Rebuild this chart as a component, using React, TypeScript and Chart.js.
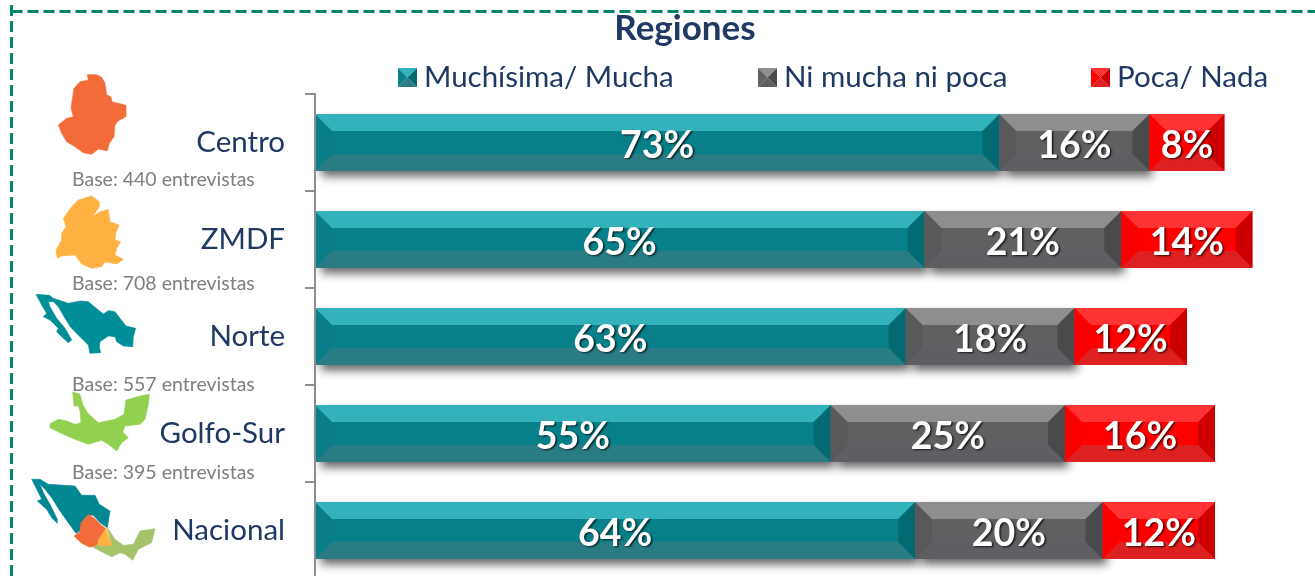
import React, { useEffect, useRef } from "react";
import { Chart, registerables } from "chart.js";

Chart.register(...registerables);

const categories = ["Centro", "ZMDF", "Norte", "Golfo-Sur", "Nacional"];
const muchaValues = [73, 65, 63, 55, 64];
const niValues = [16, 21, 18, 25, 20];
const pocaValues = [8, 14, 12, 16, 12];
const seriesNames = ["Muchísima/ Mucha", "Ni mucha ni poca", "Poca/ Nada"];
const baseLabels = ["Base: 440 entrevistas", "Base: 708 entrevistas", "Base: 557 entrevistas", "Base: 395 entrevistas"];
const chartTitle = "Regiones";

const FONT = "Lato, 'Open Sans', sans-serif";
const NAVY = "#1f3864";

const PALETTE = [
  { center: "#08808a", top: "#33b2bc", bottom: "#2a7c84", left: "#0a7e88", right: "#036a72" },
  { center: "#605f62", top: "#8e8e90", bottom: "#5f5f63", left: "#59595b", right: "#4a4a4c" },
  { center: "#ff0000", top: "#ff3333", bottom: "#dd2020", left: "#fa0000", right: "#cc0000" },
];

const BASE_Y = [180, 284, 385, 473];
const LEGEND_X = [398, 758, 1091];

type Pts = number[][];
const shape = (ctx: CanvasRenderingContext2D, pts: Pts, ox: number, oy: number, color: string) => {
  ctx.fillStyle = color;
  ctx.strokeStyle = color;
  ctx.lineWidth = 0.6;
  ctx.lineJoin = "round";
  ctx.beginPath();
  pts.forEach(([x, y], i) => (i ? ctx.lineTo(ox + x / 3, oy + y / 3) : ctx.moveTo(ox + x / 3, oy + y / 3)));
  ctx.closePath();
  ctx.fill();
  ctx.stroke();
};

const mapCentro: Pts = [[262,224],[290,224],[305,232],[315,250],[320,285],[333,290],[336,305],[355,310],[378,316],[378,350],[355,362],[345,375],[342,410],[328,430],[322,452],[295,447],[275,463],[250,458],[225,440],[200,425],[185,400],[175,375],[200,355],[220,350],[213,325],[218,290],[222,265],[240,245],[265,240]];
const mapZmdf: Pts = [[275,18],[298,35],[298,50],[278,80],[300,65],[325,58],[330,95],[357,105],[347,130],[345,150],[362,155],[350,175],[345,195],[370,208],[350,222],[315,215],[305,230],[275,235],[245,222],[225,195],[185,198],[172,205],[168,180],[185,150],[185,130],[198,110],[190,85],[215,50],[235,30]];
const mapNorte: Pts = [[108,313],[148,316],[160,325],[205,340],[240,333],[265,335],[285,352],[310,372],[325,362],[345,365],[360,385],[378,408],[407,415],[400,440],[398,470],[370,468],[350,455],[345,440],[325,438],[300,455],[298,470],[302,488],[270,490],[265,465],[240,440],[212,412],[195,385],[175,350],[160,335],[145,335],[150,350],[170,385],[195,415],[215,450],[205,458],[190,445],[170,425],[175,415],[150,390],[130,380],[140,370],[125,345]];
const mapGolfo: Pts = [[218,48],[240,55],[248,85],[262,110],[295,140],[345,130],[372,115],[378,72],[420,60],[448,55],[445,85],[435,130],[420,145],[375,150],[368,168],[385,185],[365,200],[350,225],[325,205],[305,193],[265,205],[225,190],[190,175],[150,155],[150,143],[175,130],[200,135],[225,145],[243,140],[240,105],[235,90],[222,90]];
const natNorth: Pts = [[95,310],[120,310],[145,325],[195,328],[225,330],[245,358],[285,358],[298,385],[330,405],[322,455],[300,440],[280,418],[262,418],[245,440],[240,465],[228,472],[205,440],[180,405],[155,365],[135,340],[120,325],[130,350],[150,385],[172,430],[172,442],[155,425],[140,400],[112,375],[125,370],[108,335]];
const natCentro: Pts = [[265,416],[285,428],[300,445],[318,458],[297,490],[293,505],[270,514],[245,502],[222,480],[240,468],[243,440]];
const natGolfo: Pts = [[322,455],[345,490],[370,508],[400,505],[420,465],[465,458],[455,500],[415,520],[398,553],[375,535],[360,530],[335,542],[300,525],[270,508],[295,505],[335,508]];
const natZmdf: Pts = [[318,457],[335,508],[300,510],[293,495]];

const poly = (ctx: CanvasRenderingContext2D, pts: Pts, color: string) => {
  ctx.fillStyle = color;
  ctx.beginPath();
  pts.forEach(([x, y], i) => (i ? ctx.lineTo(x, y) : ctx.moveTo(x, y)));
  ctx.closePath();
  ctx.fill();
};

const frameAndDecor = {
  id: "frameAndDecor",
  beforeDraw(chart: any) {
    const ctx: CanvasRenderingContext2D = chart.ctx;
    ctx.save();
    ctx.strokeStyle = "#00876b";
    ctx.lineWidth = 3;
    ctx.setLineDash([11, 5]);
    ctx.beginPath();
    ctx.moveTo(11.5, 11.5);
    ctx.lineTo(1315, 11.5);
    ctx.stroke();
    ctx.beginPath();
    ctx.moveTo(11.5, 576);
    ctx.lineTo(11.5, 0);
    ctx.stroke();
    ctx.setLineDash([]);

    shape(ctx, mapCentro, 0, 0, "#f26b38");
    shape(ctx, mapZmdf, 0, 190, "#ffb142");
    shape(ctx, mapNorte, 0, 190, "#008f98");
    shape(ctx, mapGolfo, 0, 376, "#92d050");
    shape(ctx, natNorth, 0, 376, "#008792");
    shape(ctx, natGolfo, 0, 376, "#a5c36a");
    shape(ctx, natCentro, 0, 376, "#f26b38");
    shape(ctx, natZmdf, 0, 376, "#ffb142");

    ctx.fillStyle = "#7f7f7f";
    ctx.font = `19.5px ${FONT}`;
    ctx.textAlign = "left";
    ctx.textBaseline = "middle";
    baseLabels.forEach((t, i) => ctx.fillText(t, 72, BASE_Y[i]));

    ctx.fillStyle = NAVY;
    ctx.font = `bold 35px ${FONT}`;
    ctx.textAlign = "center";
    ctx.fillText(chartTitle, 685, 29);

    ctx.font = `29.5px ${FONT}`;
    ctx.textAlign = "left";
    seriesNames.forEach((name, i) => {
      const p = PALETTE[i];
      const x = LEGEND_X[i], y = 68, s = 19;
      const c = [x + s / 2, y + s / 2];
      poly(ctx, [[x, y], [x + s, y], c], p.top);
      poly(ctx, [[x, y + s], [x + s, y + s], c], p.bottom);
      poly(ctx, [[x, y], [x, y + s], c], p.center);
      poly(ctx, [[x + s, y], [x + s, y + s], c], p.right);
      ctx.fillStyle = NAVY;
      ctx.fillText(name, x + 26, 77);
    });
    ctx.restore();
  },
};

const barShadow = {
  id: "barShadow",
  beforeDatasetsDraw(chart: any) {
    const ctx: CanvasRenderingContext2D = chart.ctx;
    ctx.save();
    ctx.shadowColor = "rgba(0,0,0,0.6)";
    ctx.shadowBlur = 9;
    ctx.shadowOffsetX = 4;
    ctx.shadowOffsetY = 6;
    ctx.fillStyle = "#555";
    [0, 1].forEach((d) => {
      chart.getDatasetMeta(d).data.forEach((b: any) => {
        ctx.fillRect(b.base + 2, b.y - b.height / 2, b.x - b.base - 2, b.height);
      });
    });
    ctx.restore();
  },
};

const bevelAndLabels = {
  id: "bevelAndLabels",
  afterDatasetsDraw(chart: any) {
    const ctx: CanvasRenderingContext2D = chart.ctx;
    ctx.save();
    chart.data.datasets.forEach((ds: any, d: number) => {
      const p = PALETTE[d];
      chart.getDatasetMeta(d).data.forEach((b: any, i: number) => {
        const x0 = b.base, x1 = b.x;
        const y0 = b.y - b.height / 2, y1 = b.y + b.height / 2;
        const t = 17;
        poly(ctx, [[x0, y0], [x0 + t, y0 + t], [x0 + t, y1 - t], [x0, y1]], p.left);
        poly(ctx, [[x1, y0], [x1 - t, y0 + t], [x1 - t, y1 - t], [x1, y1]], p.right);
        poly(ctx, [[x0, y0], [x1, y0], [x1 - t, y0 + t], [x0 + t, y0 + t]], p.top);
        poly(ctx, [[x0, y1], [x1, y1], [x1 - t, y1 - t], [x0 + t, y1 - t]], p.bottom);
        ctx.save();
        ctx.font = `bold 37.5px ${FONT}`;
        ctx.textAlign = "center";
        ctx.textBaseline = "middle";
        ctx.fillStyle = "#ffffff";
        ctx.shadowColor = "rgba(0,0,0,0.75)";
        ctx.shadowBlur = 2;
        ctx.shadowOffsetX = 1.5;
        ctx.shadowOffsetY = 1.5;
        ctx.fillText(`${ds.data[i]}%`, (x0 + x1) / 2, b.y + 3);
        ctx.restore();
      });
    });
    ctx.restore();
  },
};

export default function App() {
  const ref = useRef<HTMLCanvasElement>(null);
  useEffect(() => {
    document.body.style.margin = "0";
    const chart = new Chart(ref.current!, {
      type: "bar",
      data: {
        labels: categories,
        datasets: [muchaValues, niValues, pocaValues].map((data, i) => ({
          label: seriesNames[i],
          data,
          backgroundColor: PALETTE[i].center,
          barPercentage: 0.588,
          categoryPercentage: 1,
          borderWidth: 0,
        })),
      },
      options: {
        indexAxis: "y",
        responsive: false,
        animation: false,
        layout: { padding: { top: 94, right: 62.5, bottom: 1, left: 0 } },
        plugins: { legend: { display: false }, title: { display: false }, tooltip: { enabled: false } },
        scales: {
          x: { stacked: true, min: 0, max: 100, display: false },
          y: {
            stacked: true,
            afterFit: (s: any) => { s.width = 315; s.paddingTop = 0; s.paddingBottom = 0; },
            border: { color: "#8e8e8e", width: 2, z: 1 },
            grid: { drawOnChartArea: false, color: "#8e8e8e", tickLength: 10, lineWidth: 2 },
            ticks: { color: NAVY, font: { family: FONT, size: 29.5 }, padding: 20 },
          },
        },
      },
      plugins: [frameAndDecor, barShadow, bevelAndLabels],
    } as any);
    return () => chart.destroy();
  }, []);
  return (
    <div style={{ width: 1315, height: 576, overflow: "hidden", position: "relative" }}>
      <canvas ref={ref} width={1315} height={580} style={{ display: "block" }} />
    </div>
  );
}
